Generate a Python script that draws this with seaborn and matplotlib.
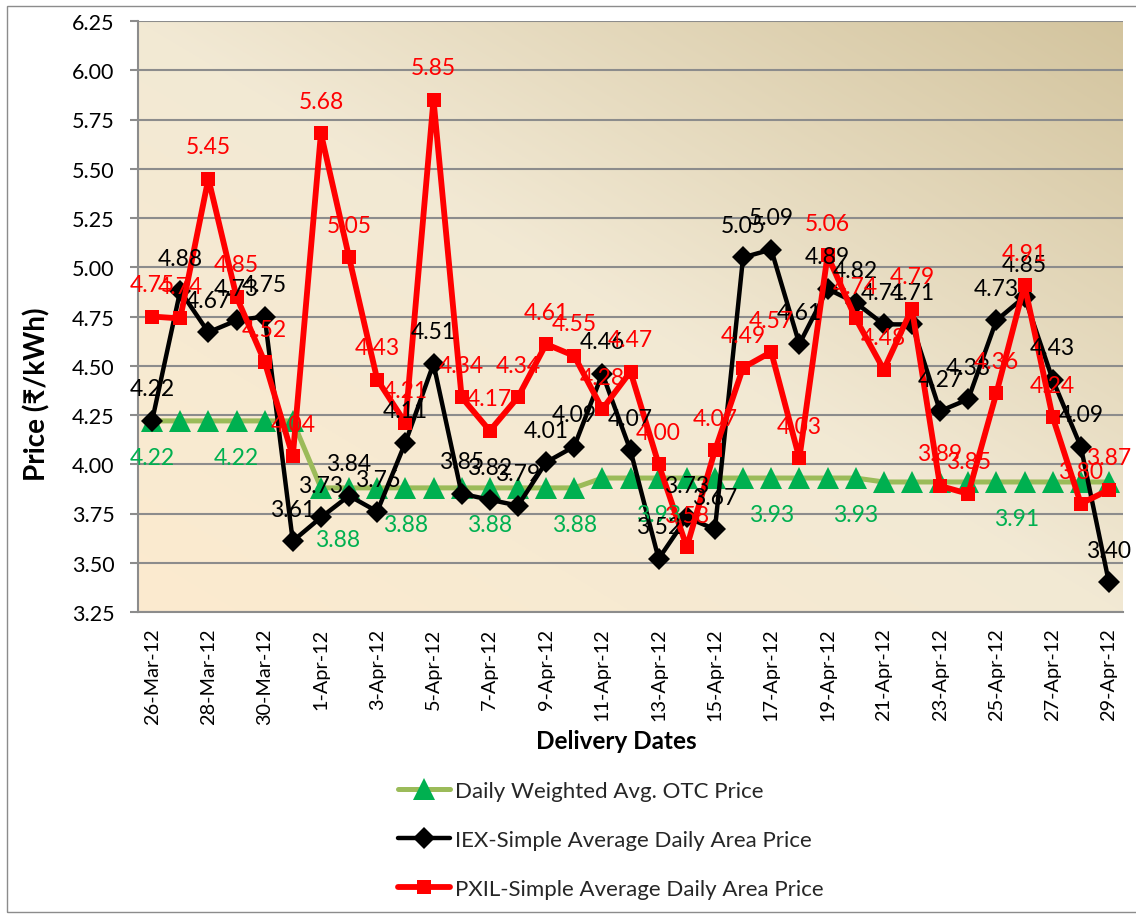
import numpy as np
import matplotlib
matplotlib.use("Agg")
import matplotlib.pyplot as plt
import seaborn as sns
from matplotlib.patches import Rectangle


# ------------------------ DATA ------------------------

dates = [
    "26-Mar-12", "27-Mar-12", "28-Mar-12", "29-Mar-12", "30-Mar-12", "31-Mar-12",
    "1-Apr-12", "2-Apr-12", "3-Apr-12", "4-Apr-12", "5-Apr-12", "6-Apr-12",
    "7-Apr-12", "8-Apr-12", "9-Apr-12", "10-Apr-12", "11-Apr-12", "12-Apr-12",
    "13-Apr-12", "14-Apr-12", "15-Apr-12", "16-Apr-12", "17-Apr-12", "18-Apr-12",
    "19-Apr-12", "20-Apr-12", "21-Apr-12", "22-Apr-12", "23-Apr-12", "24-Apr-12",
    "25-Apr-12", "26-Apr-12", "27-Apr-12", "28-Apr-12", "29-Apr-12",
]

otc_price = [
    4.22, 4.22, 4.22, 4.22, 4.22, 4.22,
    3.88, 3.88, 3.88, 3.88, 3.88, 3.88, 3.88, 3.88, 3.88, 3.88,
    3.93, 3.93, 3.93, 3.93, 3.93, 3.93, 3.93, 3.93, 3.93, 3.93,
    3.91, 3.91, 3.91, 3.91, 3.91, 3.91, 3.91, 3.91, 3.91,
]

iex_price = [
    4.22, 4.88, 4.67, 4.73, 4.75, 3.61, 3.73, 3.84, 3.76, 4.11,
    4.51, 3.85, 3.82, 3.79, 4.01, 4.09, 4.46, 4.07, 3.52, 3.73,
    3.67, 5.05, 5.09, 4.61, 4.89, 4.82, 4.71, 4.71, 4.27, 4.33,
    4.73, 4.85, 4.43, 4.09, 3.40,
]

pxil_price = [
    4.75, 4.74, 5.45, 4.85, 4.52, 4.04, 5.68, 5.05, 4.43, 4.21,
    5.85, 4.34, 4.17, 4.34, 4.61, 4.55, 4.28, 4.47, 4.00, 3.58,
    4.07, 4.49, 4.57, 4.03, 5.06, 4.74, 4.48, 4.79, 3.89, 3.85,
    4.36, 4.91, 4.24, 3.80, 3.87,
]

# only some of the OTC points carry a label in the original
otc_label_days = [0, 3, 6, 9, 12, 15, 18, 22, 25, 31]

series_names = [
    "Daily Weighted Avg. OTC Price",
    "IEX-Simple Average Daily Area Price",
    "PXIL-Simple Average Daily Area Price",
]


# ------------------------ STYLE ------------------------

sns.set_theme(style="white")
plt.rcParams["font.family"] = ["Lato", "DejaVu Sans"]

W, H = 1136, 920
fig = plt.figure(figsize=(W / 100, H / 100), dpi=100)
fig.patch.set_facecolor("white")
ax = fig.add_axes([138 / W, 1 - 613 / H, 985 / W, 591 / H])

# gradient fill of the plot area (light peach bottom-left -> tan top-right)
gx, gy = np.meshgrid(np.linspace(0, 1, 300), np.linspace(0, 1, 300))
t = (gx + gy) / 2
stops = np.array([[0xFC, 0xEB, 0xCF], [0xF2, 0xE9, 0xD4], [0xD3, 0xC4, 0x9E]]) / 255
rgb = np.stack([np.interp(t, [0, 0.5, 1], stops[:, c]) for c in range(3)], axis=-1)
ax.imshow(rgb, extent=[0, 1, 0, 1], transform=ax.transAxes, origin="lower",
          aspect="auto", zorder=0)

x = np.arange(len(dates))

# ------------------------ LINES ------------------------

sns.lineplot(x=x, y=otc_price, ax=ax, color="#9BBB59", linewidth=3.6,
             marker="^", markersize=16, markerfacecolor="#00B050",
             markeredgecolor="#00B050", markeredgewidth=0, zorder=3)

sns.lineplot(x=x, y=iex_price, ax=ax, color="black", linewidth=3.2,
             marker="D", markersize=11, markerfacecolor="black",
             markeredgecolor="black", markeredgewidth=0, zorder=4)

sns.lineplot(x=x, y=pxil_price, ax=ax, color="#FF0000", linewidth=4.2,
             marker="s", markersize=10.5, markerfacecolor="#FF0000",
             markeredgecolor="#FF0000", markeredgewidth=0, zorder=5)

# ------------------------ DATA LABELS ------------------------

label_fs = 16.5

for i, v in enumerate(iex_price):
    ax.annotate(f"{v:.2f}", (i, v), xytext=(0, 23), textcoords="offset points",
                ha="center", va="center", color="black", fontsize=label_fs, zorder=7)

for i, v in enumerate(pxil_price):
    ax.annotate(f"{v:.2f}", (i, v), xytext=(0, 23), textcoords="offset points",
                ha="center", va="center", color="#FF0000", fontsize=label_fs, zorder=8)

otc_nudge = {6: (12, -37), 31: (-6, -26)}
for i in otc_label_days:
    dx, dy = otc_nudge.get(i, (0, -26))
    ax.annotate(f"{otc_price[i]:.2f}", (i, otc_price[i]), xytext=(dx, dy),
                textcoords="offset points", ha="center", va="center",
                color="#00B050", fontsize=label_fs, zorder=6)

# ------------------------ AXES ------------------------

ax.set_xlim(-0.5, len(dates) - 0.5)
ax.set_ylim(3.25, 6.25)
ax.set_yticks([3.25, 3.50, 3.75, 4.00, 4.25, 4.50, 4.75, 5.00, 5.25, 5.50, 5.75, 6.00, 6.25])
ax.set_yticklabels([f"{v:.2f}" for v in ax.get_yticks()])
ax.set_xticks(x[::2])
ax.set_xticklabels(dates[::2], rotation=90)

ax.yaxis.grid(True, color="#8C8C8C", linewidth=1.5, zorder=1)
ax.xaxis.grid(False)
ax.set_axisbelow(True)

for side in ["top", "right"]:
    ax.spines[side].set_visible(False)
for side in ["left", "bottom"]:
    ax.spines[side].set_color("#8C8C8C")
    ax.spines[side].set_linewidth(1.5)

ax.tick_params(axis="y", direction="out", length=6, width=1.5, color="#8C8C8C",
               labelsize=15.5, pad=11, labelcolor="black", left=True)
ax.tick_params(axis="x", length=0, labelsize=14.3, pad=11, labelcolor="black")

ax.set_ylabel("Price (₹/kWh)", fontsize=20, fontweight="bold", color="black")
ax.yaxis.set_label_coords(-0.089, 0.37)
ax.set_xlabel("Delivery Dates", fontsize=17.5, fontweight="bold", color="black")
ax.xaxis.set_label_coords(0.486, -0.198)

# ------------------------ LEGEND ------------------------

handles = ax.get_lines()[:3]
leg = fig.legend(handles, series_names, loc="upper left",
                 bbox_to_anchor=(398 / W, 1 - 782 / H), bbox_transform=fig.transFigure,
                 frameon=False, fontsize=16, handlelength=2.35, handletextpad=0.22,
                 labelspacing=1.31, borderpad=0, borderaxespad=0)

# thin border around the whole chart
fig.patches.append(Rectangle((7 / W, 7 / H), 1.2, 1 - 14 / H, transform=fig.transFigure,
                             fill=False, edgecolor="#8C8C8C", linewidth=1))

fig.savefig("out.png", dpi=100)
